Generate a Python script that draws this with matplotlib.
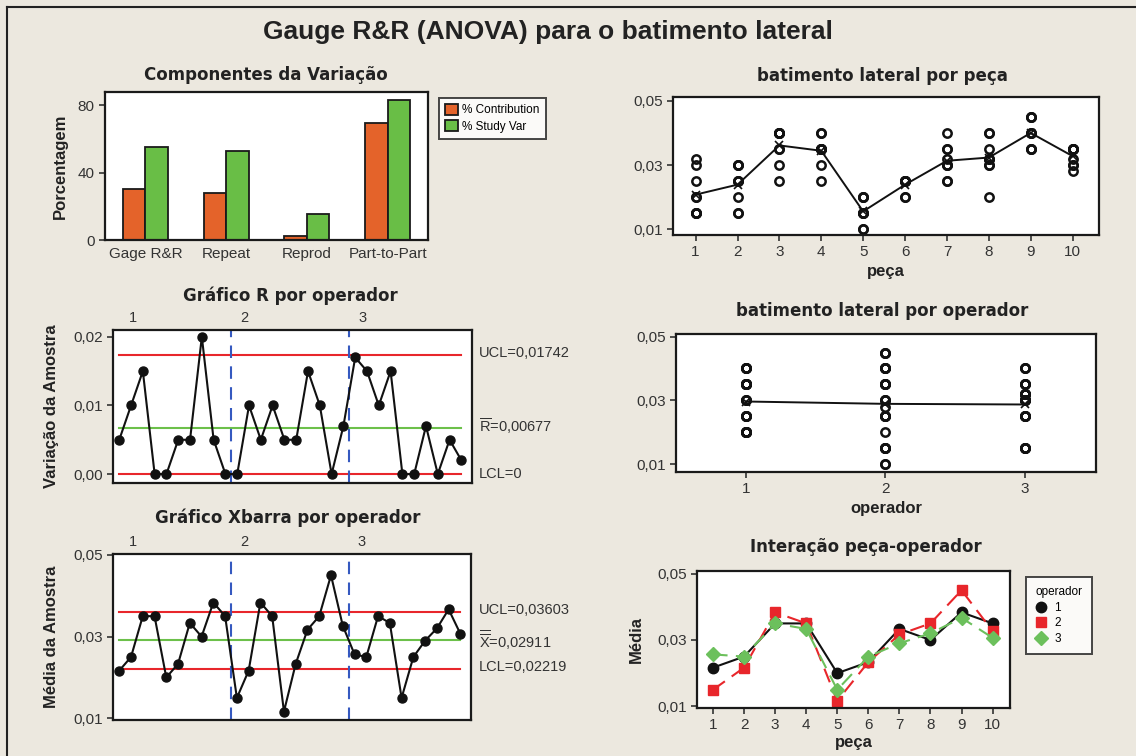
import numpy as np
import matplotlib
matplotlib.use('Agg')
import matplotlib.pyplot as plt
from matplotlib.ticker import FuncFormatter
from matplotlib.lines import Line2D

plt.rcParams['font.family'] = ['Liberation Sans', 'DejaVu Sans']
plt.rcParams['mathtext.fontset'] = 'custom'
plt.rcParams['mathtext.rm'] = 'Liberation Sans'

W, H = 1136, 756
BG = '#ECE8DF'
TXT = '#333333'
TITLE_FONT = ['DejaVu Sans']

# --- data -------------------------------------------------------------
components = ['Gage R&R', 'Repeat', 'Reprod', 'Part-to-Part']
pct_contribution = [30.6, 28.2, 2.4, 69.4]
pct_study_var = [55.3, 53.1, 15.5, 83.3]

parts = list(range(1, 11))
operators = [1, 2, 3]

# three replicate measurements per part, one list per operator
op1 = [[0.020, 0.020, 0.025], [0.020, 0.025, 0.030], [0.025, 0.040, 0.040],
       [0.035, 0.035, 0.035], [0.020, 0.020, 0.020], [0.020, 0.025, 0.025],
       [0.030, 0.035, 0.035], [0.020, 0.030, 0.040], [0.035, 0.040, 0.040],
       [0.035, 0.035, 0.035]]
op2 = [[0.015, 0.015, 0.015], [0.015, 0.025, 0.025], [0.035, 0.040, 0.040],
       [0.030, 0.035, 0.040], [0.010, 0.010, 0.015], [0.020, 0.025, 0.025],
       [0.025, 0.030, 0.040], [0.030, 0.035, 0.040], [0.045, 0.045, 0.045],
       [0.028, 0.035, 0.035]]
op3 = [[0.015, 0.030, 0.032], [0.015, 0.030, 0.030], [0.030, 0.035, 0.040],
       [0.025, 0.035, 0.040], [0.015, 0.015, 0.015], [0.025, 0.025, 0.025],
       [0.025, 0.030, 0.032], [0.032, 0.032, 0.032], [0.035, 0.035, 0.040],
       [0.030, 0.030, 0.032]]

data = np.array([op1, op2, op3])          # (operator, part, replicate)
cell_means = data.mean(axis=2)
cell_ranges = np.ptp(data, axis=2)
xbar_series = cell_means.ravel()
r_series = cell_ranges.ravel()
n_sub = len(xbar_series)
idx = np.arange(1, n_sub + 1)

# control limits, subgroup size 3
A2, D4 = 1.023, 2.574
rbar = r_series.mean()
xbarbar = xbar_series.mean()
r_ucl = D4 * rbar
x_ucl = xbarbar + A2 * rbar
x_lcl = xbarbar - A2 * rbar


def comma(v, nd):
    return f'{v:.{nd}f}'.replace('.', ',')


def fmt2(v, p):
    return comma(v, 2)


fig = plt.figure(figsize=(W / 100, H / 100), dpi=100, facecolor=BG)


def px_axes(l, t, r, b):
    ax = fig.add_axes([l / W, 1 - b / H, (r - l) / W, (b - t) / H])
    ax.set_facecolor('white')
    for s in ax.spines.values():
        s.set_linewidth(1.6)
        s.set_color('#1a1a1a')
    ax.tick_params(labelsize=11, colors=TXT, length=4, width=1.2)
    return ax


def ftext(x, y, s, **kw):
    fig.text(x / W, 1 - y / H, s, **kw)


def subtitle(x, y, s):
    ftext(x, y, s, ha='center', va='center', fontsize=12, fontweight='bold',
          color='#222', family=TITLE_FONT)


LAB = dict(fontsize=12, fontweight='bold', color='#222')

# frame of the whole page
fig.add_artist(Line2D([7 / W, 7 / W], [0, 1 - 7 / H], transform=fig.transFigure,
                      color='#222', lw=1.5))
fig.add_artist(Line2D([7 / W, 1], [1 - 7 / H, 1 - 7 / H], transform=fig.transFigure,
                      color='#222', lw=1.5))

ftext(548, 32, 'Gauge R&R (ANOVA) para o batimento lateral', ha='center', va='center',
      fontsize=19, fontweight='bold', color='#222')

# --- components of variation -----------------------------------------
ax = px_axes(105, 92, 428, 240)
xc = np.arange(len(components))
bw = 0.28
ax.bar(xc - bw / 2, pct_contribution, bw, color='#E4632A', edgecolor='#1a1a1a',
       lw=1.3, label='% Contribution')
ax.bar(xc + bw / 2, pct_study_var, bw, color='#69BE46', edgecolor='#1a1a1a',
       lw=1.3, label='% Study Var')
ax.set_xlim(-0.5, 3.5)
ax.set_ylim(0, 88)
ax.set_yticks([0, 40, 80])
ax.set_xticks(xc)
ax.set_xticklabels(components)
ax.tick_params(axis='x', length=0, pad=5)
ax.set_ylabel('Porcentagem', **LAB)
ax.yaxis.set_label_coords(-0.115, 0.5)
subtitle(266, 75, 'Componentes da Variação')
leg = ax.legend(loc='upper left', bbox_to_anchor=(1.015, 1.0), fontsize=8.5,
                frameon=True, fancybox=False, edgecolor='#1a1a1a', borderpad=0.5,
                handlelength=1.1, handleheight=1.1, handletextpad=0.4, labelspacing=0.3)
leg.get_frame().set_linewidth(1.4)

# --- R chart ------------------------------------------------------------
op_label_x = [2.2, 11.6, 21.6]
ax = px_axes(113, 330, 472, 483)
ax.plot(idx, r_series, '-o', color='#111', lw=1.5, ms=6.5, zorder=3)
ax.plot([1, n_sub], [r_ucl, r_ucl], color='#E8262B', lw=1.5)
ax.plot([1, n_sub], [0, 0], color='#E8262B', lw=1.5)
ax.plot([1, n_sub], [rbar, rbar], color='#6CC04A', lw=1.5)
for b in [10.5, 20.5]:
    ax.axvline(b, color='#3559C0', lw=1.5, ls=(0, (6, 4)))
ax.set_xlim(0.47, 30.9)
ax.set_ylim(-0.0013, 0.021)
ax.set_yticks([0, 0.01, 0.02])
ax.yaxis.set_major_formatter(FuncFormatter(fmt2))
ax.set_xticks([])
for o, xl in zip(operators, op_label_x):
    ax.text(xl, 1.03, str(o), transform=ax.get_xaxis_transform(), ha='center',
            va='bottom', fontsize=10.5, color=TXT)
ax.set_ylabel('Variação da Amostra', **LAB)
ax.yaxis.set_label_coords(-0.15, 0.5)
subtitle(290, 296, 'Gráfico R por operador')
ftext(479, 353, 'UCL=' + comma(r_ucl, 5), va='center', fontsize=10.5, color=TXT)
ftext(479, 426, r'$\overline{\mathrm{R}}$=' + comma(rbar, 5), va='center', fontsize=10.5, color=TXT)
ftext(479, 474, 'LCL=0', va='center', fontsize=10.5, color=TXT)

# --- Xbar chart ---------------------------------------------------------
ax = px_axes(113, 554, 471, 720)
ax.plot(idx, xbar_series, '-o', color='#111', lw=1.5, ms=6.5, zorder=3)
ax.plot([1, n_sub], [x_ucl, x_ucl], color='#E8262B', lw=1.5)
ax.plot([1, n_sub], [x_lcl, x_lcl], color='#E8262B', lw=1.5)
ax.plot([1, n_sub], [xbarbar, xbarbar], color='#6CC04A', lw=1.5)
for b in [10.5, 20.5]:
    ax.axvline(b, color='#3559C0', lw=1.5, ls=(0, (6, 4)))
ax.set_xlim(0.47, 30.9)
ax.set_ylim(0.0096, 0.0502)
ax.set_yticks([0.01, 0.03, 0.05])
ax.yaxis.set_major_formatter(FuncFormatter(fmt2))
ax.set_xticks([])
for o, xl in zip(operators, op_label_x):
    ax.text(xl, 1.03, str(o), transform=ax.get_xaxis_transform(), ha='center',
            va='bottom', fontsize=10.5, color=TXT)
ax.set_ylabel('Média da Amostra', **LAB)
ax.yaxis.set_label_coords(-0.15, 0.5)
subtitle(288, 518, 'Gráfico Xbarra por operador')
ftext(479, 610, 'UCL=' + comma(x_ucl, 5), va='center', fontsize=10.5, color=TXT)
ftext(479, 640, r'$\overline{\overline{\mathrm{X}}}$=' + comma(xbarbar, 5), va='center',
      fontsize=10.5, color=TXT)
ftext(479, 667, 'LCL=' + comma(x_lcl, 5), va='center', fontsize=10.5, color=TXT)

# --- by part ------------------------------------------------------------
ax = px_axes(673, 97, 1099, 235)
part_means = data.mean(axis=(0, 2))
for j, p in enumerate(parts):
    vals = data[:, j, :].ravel()
    ax.plot(np.full(vals.size, p), vals, 'o', mfc='none', mec='#111', mew=1.8, ms=6)
ax.plot(parts, part_means, '-x', color='#111', lw=1.4, ms=6, mew=1.2)
ax.set_xlim(0.46, 10.63)
ax.set_ylim(0.0082, 0.0512)
ax.set_xticks(parts)
ax.set_yticks([0.01, 0.03, 0.05])
ax.yaxis.set_major_formatter(FuncFormatter(fmt2))
ax.set_xlabel('peça', labelpad=3, **LAB)
subtitle(882, 76, 'batimento lateral por peça')

# --- by operator ----------------------------------------------------------
ax = px_axes(676, 334, 1096, 472)
op_means = data.mean(axis=(1, 2))
for i, o in enumerate(operators):
    vals = data[i].ravel()
    ax.plot(np.full(vals.size, o), vals, 'o', mfc='none', mec='#111', mew=1.8, ms=6)
ax.plot(operators, op_means, '-x', color='#111', lw=1.4, ms=6, mew=1.2)
ax.set_xlim(0.5, 3.51)
ax.set_ylim(0.0076, 0.0508)
ax.set_xticks(operators)
ax.set_yticks([0.01, 0.03, 0.05])
ax.yaxis.set_major_formatter(FuncFormatter(fmt2))
ax.set_xlabel('operador', labelpad=3, **LAB)
subtitle(882, 311, 'batimento lateral por operador')

# --- interaction ------------------------------------------------------------
ax = px_axes(697, 571, 1010, 708)
styles = [dict(color='#111', marker='o', ls='-', ms=7.5),
          dict(color='#E8262B', marker='s', ls=(0, (7, 4)), ms=7.5),
          dict(color='#6CC05C', marker='D', ls=(0, (7, 4)), ms=7.5)]
handles = []
for i, o in enumerate(operators):
    st = styles[i]
    ax.plot(parts, cell_means[i], lw=1.5, color=st['color'], ls=st['ls'],
            marker=st['marker'], ms=st['ms'])
    handles.append(Line2D([], [], ls='none', marker=st['marker'], color=st['color'],
                          ms=st['ms'], label=str(o)))
ax.set_xlim(0.485, 10.56)
ax.set_ylim(0.0095, 0.0508)
ax.set_xticks(parts)
ax.set_yticks([0.01, 0.03, 0.05])
ax.yaxis.set_major_formatter(FuncFormatter(fmt2))
ax.set_xlabel('peça', labelpad=2, **LAB)
ax.set_ylabel('Média', **LAB)
ax.yaxis.set_label_coords(-0.17, 0.5)
subtitle(866, 547, 'Interação peça-operador')
leg = ax.legend(handles=handles, title='operador', loc='upper left',
                bbox_to_anchor=(1.032, 1.0), fontsize=8.5, title_fontsize=8.5,
                frameon=True, fancybox=False, edgecolor='#1a1a1a', handlelength=1.0,
                handletextpad=0.6, borderpad=0.8, labelspacing=0.3)
leg.get_frame().set_linewidth(1.4)
leg._legend_box.align = 'left'

fig.savefig('out.png', dpi=100, facecolor=BG)
